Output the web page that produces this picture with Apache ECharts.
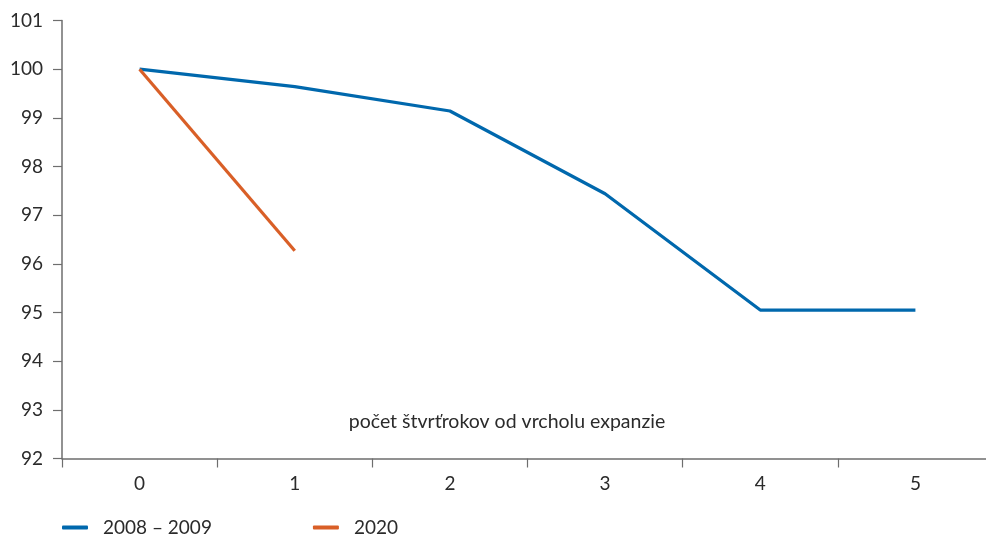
<!DOCTYPE html>
<html>
<head>
<meta charset="utf-8">
<script src="https://cdn.jsdelivr.net/npm/echarts@6/dist/echarts.min.js"></script>
<style>
  html, body { margin: 0; padding: 0; background: #fff; }
  #chart { width: 986px; height: 536px; }
</style>
</head>
<body>
<div id="chart"></div>
<script>
// Quarters counted from the peak of the expansion
const quarters = ['0', '1', '2', '3', '4', '5'];
// Index (peak = 100)
const series2008 = [100, 99.64, 99.14, 97.44, 95.05, 95.05];
const series2020 = [100, 96.27];
const seriesNames = ['2008 – 2009', '2020'];
const axisTitle = 'počet štvrťrokov od vrcholu expanzie';

const FONT = 'Lato, "Noto Sans", sans-serif';
const TEXT = '#2b2b2b';
const AXIS = '#6e6e6e';

const chart = echarts.init(document.getElementById('chart'), null, { renderer: 'canvas' });

chart.setOption({
  animation: false,
  backgroundColor: '#ffffff',
  textStyle: { fontFamily: FONT },
  grid: {
    left: 62, right: -7, top: 20.5, bottom: 77.5,
    containLabel: false,
    outerBoundsMode: 'none'
  },
  legend: {
    left: 62,
    top: 518,
    padding: 0,
    itemWidth: 26,
    itemHeight: 4,
    itemGap: 101,
    icon: 'roundRect',
    textStyle: { fontFamily: FONT, fontSize: 19, color: TEXT, padding: [0, 0, 0, 10] },
    data: seriesNames
  },
  xAxis: {
    type: 'category',
    data: quarters,
    boundaryGap: true,
    axisLine: { lineStyle: { color: AXIS, width: 1.5 } },
    axisTick: { show: true, length: 9, lineStyle: { color: AXIS, width: 1.2 } },
    axisLabel: { color: TEXT, fontSize: 19, fontFamily: FONT, margin: 16 },
    splitLine: { show: false }
  },
  yAxis: {
    type: 'value',
    min: 92,
    max: 101,
    interval: 1,
    axisLine: { show: true, lineStyle: { color: AXIS, width: 1.5 } },
    axisTick: { show: true, length: 9, lineStyle: { color: AXIS, width: 1.2 } },
    axisLabel: { color: TEXT, fontSize: 19, fontFamily: FONT, margin: 19 },
    splitLine: { show: false }
  },
  graphic: [{
    type: 'text',
    x: 507,
    y: 422,
    style: { text: axisTitle, fill: TEXT, font: '19.5px ' + FONT, align: 'center', verticalAlign: 'middle' }
  }],
  series: [
    {
      name: seriesNames[0],
      type: 'line',
      data: series2008,
      symbol: 'none',
      lineStyle: { color: '#0068ad', width: 3.2 },
      itemStyle: { color: '#0068ad' }
    },
    {
      name: seriesNames[1],
      type: 'line',
      data: series2020,
      symbol: 'none',
      lineStyle: { color: '#d95f27', width: 3.2 },
      itemStyle: { color: '#d95f27' }
    }
  ]
});
</script>
</body>
</html>
